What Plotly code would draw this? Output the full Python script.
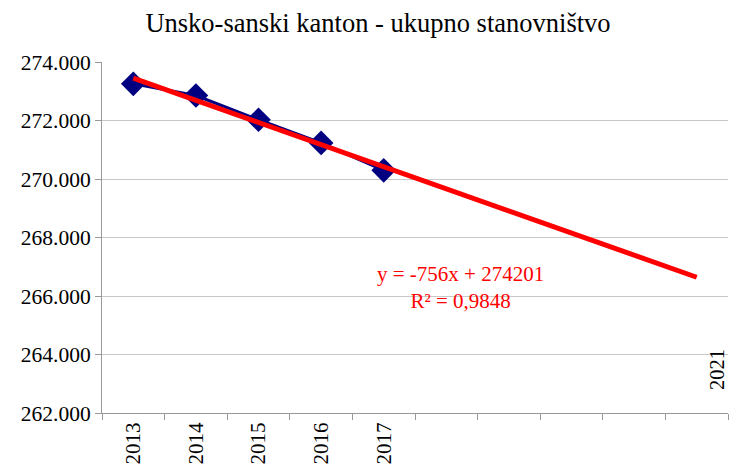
import plotly.graph_objects as go

years = ["2013", "2014", "2015", "2016", "2017"]
population = [273255, 272855, 272025, 271235, 270295]
slope = -756
intercept = 274201
forecast_periods = 5
extra_label = "2021"
title_text = "Unsko-sanski kanton - ukupno stanovništvo"

SERIF = "Times New Roman, Liberation Serif, serif"

xs = list(range(1, len(years) + 1))
trend_x = [1, len(years) + forecast_periods]
trend_y = [slope * x + intercept for x in trend_x]

fig = go.Figure()
fig.add_trace(go.Scatter(
    x=xs, y=population, mode="lines+markers",
    line=dict(color="#000080", width=3),
    marker=dict(symbol="diamond", size=19, color="#000080"),
    showlegend=False, hoverinfo="skip"))
fig.add_trace(go.Scatter(
    x=trend_x, y=trend_y, mode="lines",
    line=dict(color="#ff0000", width=5),
    showlegend=False, hoverinfo="skip"))

fig.add_annotation(x=6.23, y=266300, xref="x", yref="y",
                   text="y = -756x + 274201<br>R² = 0,9848",
                   showarrow=False, align="center",
                   font=dict(family=SERIF, size=21, color="#ff0000"))
fig.add_annotation(x=0.9825, y=0.1225, xref="paper", yref="paper", text=extra_label,
                   xanchor="center", yanchor="middle",
                   textangle=-90, showarrow=False, borderpad=0,
                   font=dict(family=SERIF, size=20.5, color="black"))

fig.update_layout(
    width=729, height=473,
    margin=dict(l=102, r=1, t=62, b=60, autoexpand=False),
    paper_bgcolor="white", plot_bgcolor="white",
    separators=",.",
    title=dict(text=title_text, x=0.5185, xanchor="center", y=0.953, yanchor="middle",
               font=dict(family=SERIF, size=26.5, color="black")),
    font=dict(family=SERIF, size=21, color="black"),
    xaxis=dict(range=[0.5, 10.5], tickvals=xs, ticktext=years, tickangle=-90,
               ticks="", showgrid=False, zeroline=False, automargin=False,
               showline=True, linecolor="#999999", linewidth=1,
               minor=dict(tick0=0.5, dtick=1, ticks="outside", ticklen=6,
                          tickcolor="#999999", showgrid=False),
               tickfont=dict(family=SERIF, size=21)),
    yaxis=dict(range=[262000, 274000], dtick=2000, tickformat=",.0f",
               ticks="outside", ticklen=6, tickcolor="#999999", automargin=False,
               showgrid=True, gridcolor="#c8c8c8", gridwidth=1, zeroline=False,
               showline=True, linecolor="#999999", linewidth=1,
               tickfont=dict(family=SERIF, size=21.5)),
)

fig.write_html(
    "out.html",
    config={"displayModeBar": False},
    post_script="document.body.style.margin='0';"
                "document.body.style.overflow='hidden';"
                "document.documentElement.style.overflow='hidden';",
)
